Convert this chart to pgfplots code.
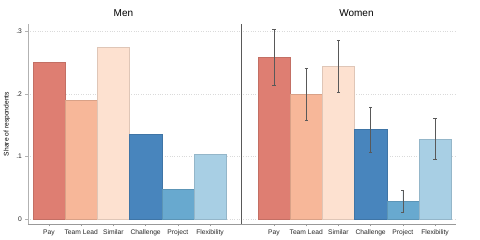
\documentclass[border=0pt]{standalone}
\usepackage{fontspec}
\setmainfont{Liberation Sans}
\usepackage{pgfplots}
\pgfplotsset{compat=1.18}
\definecolor{cPay}{RGB}{222,126,114}
\definecolor{cTL}{RGB}{247,183,153}
\definecolor{cSim}{RGB}{253,225,208}
\definecolor{cCh}{RGB}{72,133,189}
\definecolor{cPr}{RGB}{104,169,207}
\definecolor{cFl}{RGB}{168,207,228}
\definecolor{gridc}{RGB}{218,218,218}
\pgfplotsset{
  panel/.style={
    scale only axis, height=200pt,
    ymin=-0.008, ymax=0.3115,
    ytick={0,0.1,0.2,0.3},
    xtick={1,2,3,4,5,6},
    xticklabels={Pay,Team Lead,Similar,Challenge,Project,Flexibility},
    tick label style={font=\fontsize{6.7}{8}\selectfont, text=black!85},
    label style={font=\fontsize{6.7}{8}\selectfont},
    title style={font=\fontsize{10}{12}\selectfont},
    ymajorgrids, grid style={dotted, draw=gridc, line width=0.5pt},
    axis x line*=bottom, axis y line*=left,
    x axis line style={-, draw=black!40, line width=0.7pt},
    tick align=outside, major tick length=2.5pt,
    x tick style={draw=black!40, line width=0.5pt},
    clip=false,
  },
  bb/.style={ybar, bar width=1, bar shift=0pt, fill=#1, draw=#1!88!black, line width=0.4pt},
  eb/.style={error bars/.cd, y dir=both, y explicit,
    error bar style={line width=0.6pt, draw=black!65},
    error mark options={rotate=90, mark size=1.6pt, line width=0.6pt, draw=black!65}},
}
\begin{document}
\begin{tikzpicture}[x=1pt,y=1pt]
\path[use as bounding box] (0,0) rectangle (480,240);
\begin{axis}[panel, at={(28pt,16pt)}, anchor=south west, width=213pt,
  xmin=0.348, xmax=6.96,
  yticklabels={0,.1,.2,.3},
  y axis line style={-, draw=black!30, line width=0.8pt},
  y tick style={draw=black!30, line width=0.5pt},
  ylabel={Share of respondents},
  ylabel style={at={(axis description cs:-0.0986,0.5)}, anchor=center},
  title={Men},
  title style={at={(axis description cs:0.448,1)}, anchor=center, yshift=5pt},
]
\addplot[bb=cPay] coordinates {(1,0.250)};
\addplot[bb=cTL]  coordinates {(2,0.190)};
\addplot[bb=cSim] coordinates {(3,0.274)};
\addplot[bb=cCh]  coordinates {(4,0.135)};
\addplot[bb=cPr]  coordinates {(5,0.047)};
\addplot[bb=cFl]  coordinates {(6,0.104)};
\end{axis}
\begin{axis}[panel, at={(241pt,16pt)}, anchor=south west, width=215pt,
  xmin=-0.025, xmax=6.65,
  yticklabels={},
  y axis line style={-, draw=black!65, line width=1pt},
  y tick style={draw=none},
  title={Women},
  title style={at={(axis description cs:0.537,1)}, anchor=center, yshift=5pt},
]
\addplot[bb=cPay, eb] coordinates {(1,0.258) +- (0,0.045)};
\addplot[bb=cTL, eb]  coordinates {(2,0.199) +- (0,0.041)};
\addplot[bb=cSim, eb] coordinates {(3,0.244) +- (0,0.041)};
\addplot[bb=cCh, eb]  coordinates {(4,0.143) +- (0,0.036)};
\addplot[bb=cPr, eb]  coordinates {(5,0.028) +- (0,0.018)};
\addplot[bb=cFl, eb]  coordinates {(6,0.128) +- (0,0.033)};
\end{axis}
\end{tikzpicture}
\end{document}
